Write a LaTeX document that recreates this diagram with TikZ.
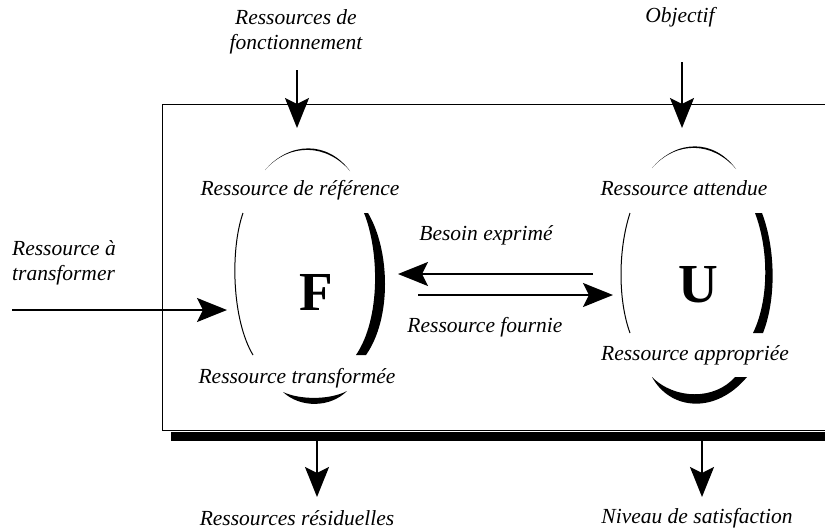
\documentclass[tikz,border=0pt]{standalone}
\usepackage{fontspec}
\setmainfont{Liberation Serif}
\usetikzlibrary{arrows.meta}
\tikzset{
  lbl/.style={font=\fontsize{21.5}{25}\selectfont\itshape, inner sep=0pt, align=center},
  big/.style={font=\fontsize{55}{60}\selectfont\bfseries, inner sep=0pt},
  flow/.style={line width=1.8pt, -{Stealth[length=30pt, width=24pt, inset=6pt]}},
  thin/.style={line width=1pt},
  ink/.style={fill=black, draw=none}
}
\begin{document}
\begin{tikzpicture}[x=1pt, y=-1pt]
\useasboundingbox (0,0) rectangle (825,531);
% frame and its shadow
\fill (171,432) rectangle (840,441);
\draw[thin] (840,104) -- (162,104) -- (162,430) -- (840,430);

% labels
\node[lbl] (fonct) at (296,32) {Ressources de\\fonctionnement};
\node[lbl] (obj) at (680,17) {Objectif};
\node[lbl] (ref) at (300,190) {Ressource de référence};
\node[lbl] (att) at (684,188) {Ressource attendue};
\node[lbl] (bes) at (486,235) {Besoin exprimé};
\node[lbl] (fou) at (485,327) {Ressource fournie};
\node[lbl] (trf) at (297,378) {Ressource transformée};
\node[lbl] (app) at (695,355) {Ressource appropriée};
\node[lbl] (res) at (297,518) {Ressources résiduelles};
\node[lbl] (sat) at (697,518) {Niveau de satisfaction};
\node[lbl, anchor=west, align=left] (inp) at (12,263) {Ressource à\\transformer};
\node[big] (F) at (316,292) {F};
\node[big] (U) at (698,285) {U};

% F ellipse pieces
\fill[ink] (265,170) .. controls (290,141) and (328,141) .. (350,171)
  .. controls (327,144) and (290,142) .. (265,170) -- cycle;
\draw[thin] (243,213) .. controls (230,250) and (232,320) .. (253,355);
\fill[ink] (368,213) .. controls (390,250) and (392,318) .. (366,355)
  -- (356,355) .. controls (381,318) and (379,250) .. (364,213) -- cycle;
\fill[ink] (283,392) .. controls (300,408) and (330,408) .. (347,391)
  .. controls (330,400) and (300,400) .. (283,392) -- cycle;

% U ellipse pieces
\fill[ink] (652,168) .. controls (677,139) and (714,139) .. (736,169)
  .. controls (713,142) and (677,140) .. (652,168) -- cycle;
\draw[thin] (630,213) .. controls (618,250) and (618,300) .. (630,333);
\fill[ink] (762,213) .. controls (776,250) and (776,300) .. (763,333)
  -- (753,333) .. controls (769,300) and (769,250) .. (755,213) -- cycle;
\fill[ink] (652,377) .. controls (670,410) and (715,415) .. (747,377)
  -- (735,377) .. controls (715,400) and (675,400) .. (652,377) -- cycle;

% arrow end points
\coordinate (tFs) at (297,70);  \coordinate (tFe) at (297,128);
\coordinate (tUs) at (682,62);  \coordinate (tUe) at (682,128);
\coordinate (inS) at (12,310);  \coordinate (inE) at (227,310);
\coordinate (bS) at (593,274);  \coordinate (bE) at (398,274);
\coordinate (fS) at (418,295);  \coordinate (fE) at (613,295);
\coordinate (rS) at (317,441);  \coordinate (rE) at (317,497);
\coordinate (sS) at (702,441);  \coordinate (sE) at (702,497);

\draw[flow] (tFs) -- (tFe);
\draw[flow] (tUs) -- (tUe);
\draw[flow] (inS) -- (inE);
\draw[flow] (bS) -- (bE);
\draw[flow] (fS) -- (fE);
\draw[flow] (rS) -- (rE);
\draw[flow] (sS) -- (sE);
\end{tikzpicture}
\end{document}
